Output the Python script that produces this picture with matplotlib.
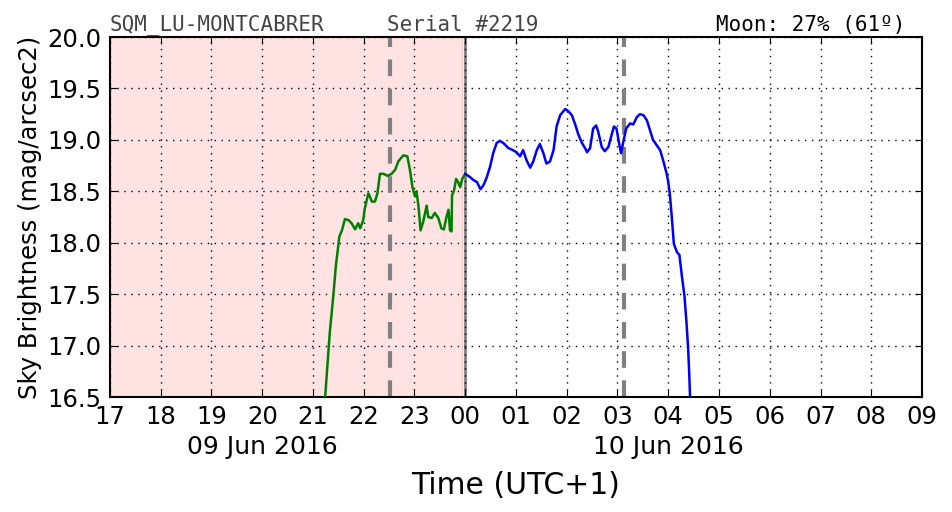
import matplotlib
matplotlib.use("Agg")
import matplotlib.pyplot as plt

# datos (hora decimal desde 00h del 09 Jun, magnitud)
t_evening = [21.24, 21.33, 21.40, 21.45, 21.52, 21.57, 21.63, 21.70, 21.76, 21.83,
             21.89, 21.93, 21.99, 22.02, 22.09, 22.12, 22.16, 22.22, 22.27, 22.32,
             22.39, 22.47, 22.55, 22.62, 22.68, 22.78, 22.86, 22.91, 22.96, 23.01,
             23.04, 23.08, 23.12, 23.17, 23.24, 23.27, 23.34, 23.40, 23.47, 23.53,
             23.58, 23.63, 23.67, 23.70, 23.73, 23.74, 23.78, 23.82, 23.86, 23.90,
             23.94, 24.00]
m_evening = [16.50, 17.12, 17.48, 17.77, 18.06, 18.12, 18.23, 18.22, 18.19, 18.13,
             18.19, 18.14, 18.22, 18.33, 18.48, 18.45, 18.40, 18.40, 18.48, 18.67,
             18.67, 18.65, 18.67, 18.71, 18.79, 18.85, 18.84, 18.71, 18.54, 18.45,
             18.50, 18.35, 18.12, 18.20, 18.36, 18.25, 18.24, 18.29, 18.24, 18.14,
             18.13, 18.25, 18.32, 18.12, 18.11, 18.46, 18.51, 18.62, 18.59, 18.54,
             18.62, 18.67]

t_night = [24.00, 24.09, 24.16, 24.23, 24.30, 24.36, 24.42, 24.49, 24.55, 24.62,
           24.68, 24.75, 24.85, 24.94, 25.01, 25.08, 25.14, 25.21, 25.28, 25.34,
           25.41, 25.47, 25.54, 25.60, 25.67, 25.74, 25.80, 25.87, 25.97, 26.03,
           26.10, 26.16, 26.23, 26.30, 26.36, 26.40, 26.46, 26.52, 26.58, 26.62,
           26.69, 26.75, 26.82, 26.89, 26.93, 26.98, 27.03, 27.07, 27.11, 27.17,
           27.25, 27.31, 27.38, 27.44, 27.51, 27.58, 27.63, 27.70, 27.77, 27.84,
           27.90, 27.97, 28.00, 28.03, 28.07, 28.11, 28.17, 28.22, 28.27, 28.32,
           28.36, 28.39, 28.41, 28.43]
m_night = [18.67, 18.64, 18.61, 18.59, 18.52, 18.56, 18.63, 18.74, 18.87, 18.97,
           18.99, 18.97, 18.92, 18.90, 18.88, 18.84, 18.90, 18.80, 18.73, 18.79,
           18.90, 18.96, 18.87, 18.77, 18.79, 18.90, 19.13, 19.24, 19.30, 19.28,
           19.24, 19.16, 19.05, 18.97, 18.92, 18.88, 18.92, 19.11, 19.14, 19.08,
           18.93, 18.89, 18.93, 19.06, 19.13, 19.11, 18.97, 18.87, 18.97, 19.11,
           19.16, 19.15, 19.22, 19.25, 19.24, 19.19, 19.11, 19.00, 18.95, 18.90,
           18.80, 18.67, 18.59, 18.48, 18.25, 17.99, 17.91, 17.88, 17.67, 17.48,
           17.22, 16.99, 16.77, 16.50]

hours = list(range(17, 34))
hour_labels = ["%02d" % (h % 24) for h in hours]
dates = ["09 Jun 2016", "10 Jun 2016"]
date_pos = [20.0, 28.0]

twilight_shade = (17.0, 23.94)   # zona sombreada
midnight = 24.0
dashed_marks = [22.52, 27.13]

station = "SQM_LU-MONTCABRER"
serial = "Serial #2219"
moon = "Moon: 27% (61º)"

fig = plt.figure(figsize=(9.52, 5.12), dpi=100)
ax = fig.add_axes([0.1155, 0.2246, 0.853, 0.7031])

ax.axvspan(twilight_shade[0], twilight_shade[1], color="#ffe2e2", zorder=0)
ax.axvline(twilight_shade[1], color="#ffcccc", lw=1, zorder=0)
ax.axvline(midnight, color="gray", lw=2, zorder=1)
for x in dashed_marks:
    ax.axvline(x, color="gray", lw=3, ls=(0, (4, 3)), zorder=2)

ax.plot(t_evening, m_evening, color="green", lw=1.8, zorder=3)
ax.plot(t_night, m_night, color="blue", lw=1.8, zorder=3)

ax.set_xlim(17, 33)
ax.set_ylim(16.5, 20.0)
ax.set_xticks(hours)
ax.set_xticklabels(hour_labels)
ax.set_yticks([16.5 + 0.5 * i for i in range(8)])
ax.set_yticklabels(["%.1f" % (16.5 + 0.5 * i) for i in range(8)])
ax.tick_params(direction="in", top=True, right=True, labelsize=17.5, length=5, pad=6)
ax.grid(True, color="black", ls=(0, (1, 4)), lw=1)
for s in ax.spines.values():
    s.set_linewidth(1.5)

for d, x in zip(dates, date_pos):
    ax.text(x, -0.105, d, transform=ax.get_xaxis_transform(), ha="center",
            va="top", fontsize=18)

ax.set_xlabel("Time (UTC+1)", fontsize=21.5, labelpad=30)
ax.set_ylabel("Sky Brightness (mag/arcsec2)", fontsize=17.5, labelpad=4)

ax.text(0.0, 1.005, station, transform=ax.transAxes, family="DejaVu Sans Mono",
        fontsize=15, color="#444444", va="bottom", ha="left")
ax.text(22.45, 1.005, serial, transform=ax.get_xaxis_transform(), family="DejaVu Sans Mono",
        fontsize=15, color="#444444", va="bottom", ha="left")
ax.text(0.98, 1.005, moon, transform=ax.transAxes, family="DejaVu Sans Mono",
        fontsize=15, color="black", va="bottom", ha="right")

fig.savefig("out.png", dpi=100)
